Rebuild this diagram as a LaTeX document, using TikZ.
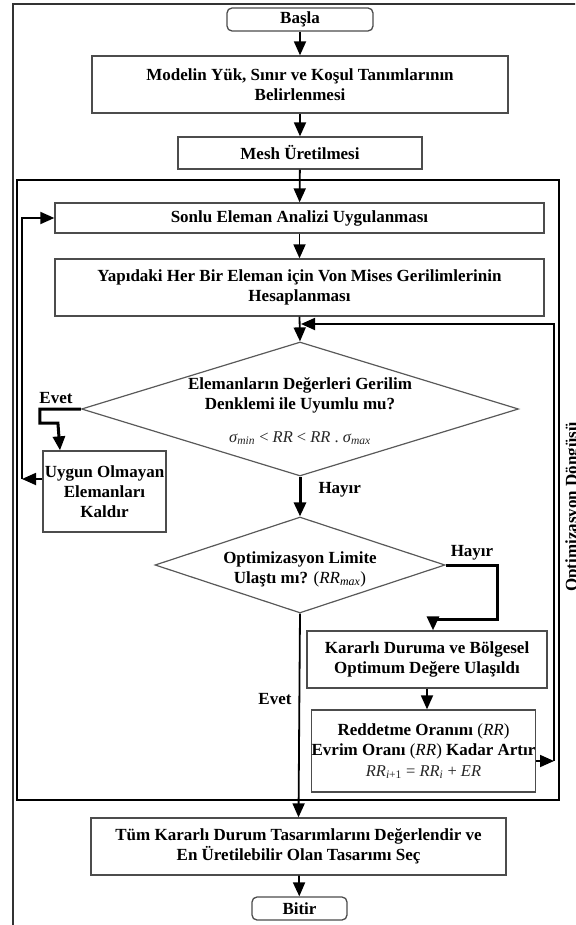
\documentclass[tikz,border=0pt]{standalone}
\usepackage{fontspec}
\setmainfont{Liberation Serif}
\usetikzlibrary{positioning, shapes.geometric, arrows.meta}
\newcommand\akis{\fontsize{17}{20}\selectfont\bfseries}
\newcommand\formul{\fontsize{16.5}{19}\selectfont\mdseries}
\newcommand\mi[1]{{\mdseries\itshape #1}}
\newcommand\alt[1]{\textsubscript{\mdseries #1}}
\tikzset{blok/.style={draw=black!70, line width=1.3pt, fill=white, font=\akis, align=center, inner sep=0pt}}
\tikzset{term/.style={blok, rounded corners=5}}
\tikzset{soru/.style={diamond, draw=black!65, line width=1.2pt, inner sep=0pt}}
\tikzset{yazi/.style={font=\akis, align=center, inner sep=0pt}}
\tikzset{arr/.style={draw, line width=1.8pt, -{Triangle[length=14pt, width=12pt]}}}
\tikzset{arrk/.style={arr, line width=3pt}}

\begin{document}
\begin{tikzpicture}[x=1pt, y=-1pt]
	\clip (0,0) rectangle (575,925);
	% frames
	\draw[black!80, line width=1.3pt] (13,940) -- (13,4) -- (590,4);
	\draw[line width=2.8pt] (17,180) rectangle (559,800);
	\node[yazi, rotate=90, anchor=north] (dongu) at (565,507) {Optimizasyon Döngüsü};

	\node[term, minimum width=146, minimum height=23] (basla) at (300,19.5) {Başla};
	\node[blok, minimum width=416, minimum height=57] (model) at (300,84.5)
		{Modelin Yük, Sınır ve Koşul Tanımlarının\\Belirlenmesi};
	\node[blok, minimum width=244, minimum height=32] (mesh) at (300,153) {Mesh Üretilmesi};
	\node[blok, minimum width=489, minimum height=30] (sonlu) at (299.5,218)
		{Sonlu Eleman Analizi Uygulanması};
	\node[blok, minimum width=489, minimum height=57] (gerilme) at (299.5,287.5)
		{Yapıdaki Her Bir Eleman için Von Mises Gerilimlerinin\\Hesaplanması};

	\node[soru, minimum width=437, minimum height=134] (uyum) at (300,409) {};
	\node[yazi] (uyum-t) at (300,395) {Elemanların Değerleri Gerilim\\Denklemi ile Uyumlu mu?};
	\node[yazi, font=\formul, black!85] (uyum-f) at (300,438)
		{\mi{σ}\alt{\mi{min}} < \mi{RR} < \mi{RR} . \mi{σ}\alt{\mi{max}}};
	\node[blok, minimum width=123, minimum height=81] (kaldir) at (104.5,491.5)
		{Uygun Olmayan\\Elemanları\\Kaldır};

	\node[soru, minimum width=290, minimum height=96] (limit) at (300,565) {};
	\node[yazi] (limit-t) at (300,569)
		{Optimizasyon Limite\\Ulaştı mı? {\mdseries(\mi{RR}\alt{\mi{max}})}};
	\node[blok, minimum width=240, minimum height=57] (kararli) at (427,659.5)
		{Kararlı Duruma ve Bölgesel\\Optimum Değere Ulaşıldı};
	\node[blok, minimum width=223, minimum height=82] (artir) at (423.5,751)
		{Reddetme Oranını {\mdseries(\mi{RR})}\\Evrim Oranı {\mdseries(\mi{RR})} Kadar Artır\\[1pt]%
		{\formul\color{black!85}\mi{RR}\alt{\mi{i}+1} = \mi{RR}\alt{\mi{i}} + \mi{ER}}};

	\node[blok, minimum width=415, minimum height=57] (tum) at (298.5,846.5)
		{Tüm Kararlı Durum Tasarımlarını Değerlendir ve\\En Üretilebilir Olan Tasarımı Seç};
	\node[term, minimum width=95, minimum height=23] (bitir) at (299.5,908.5) {Bitir};

	\coordinate (geri-sol) at (22,479);
	\coordinate (geri-sag) at (554,761);
	\coordinate (donus) at (301,324);

	\draw[arr] (basla) -- (model);
	\draw[arr] (model) -- (mesh);
	\draw[arr] (mesh) -- (sonlu);
	\draw[arr] (sonlu.south) -- (gerilme.north);
	\draw[arr] (gerilme.south) -- (uyum.north);
	% evet: remove elements
	\node[yazi] (evet-sol) at (56,398) {Evet};
	\draw[arrk] (uyum.west) -- ++(-41,0) -- ++(0,14) -- ++(18,0) -- ([xshift=-44.5]kaldir.north);
	\draw[arr] ([yshift=12.5]kaldir.west) -- (geri-sol);
	\draw[arr] (geri-sol) |- (sonlu.west);
	% hayir
	\draw[arrk] (uyum.south) -- (limit.north)
		node[pos=0.34, right=17pt, font=\akis, inner sep=0pt]{Hayır};
	\node[yazi] (hayir-sag) at (472,553) {Hayır};
	\draw[arrk] (limit.east) -- ++(52,0) -- ++(0,54) -| ([xshift=6]kararli.north);
	\draw[arr] (kararli.south) -- (kararli.south |- artir.north);
	\draw[arr] (artir.east |- geri-sag) -- (geri-sag);
	\draw[arr] (geri-sag) |- (donus);
	% evet: finish
	\draw[arr] (limit.south) -- (tum.north)
		node[pos=0.42, left=7pt, font=\akis, inner sep=0pt]{Evet};
	\draw[arr] (tum) -- (bitir);
\end{tikzpicture}
\end{document}
